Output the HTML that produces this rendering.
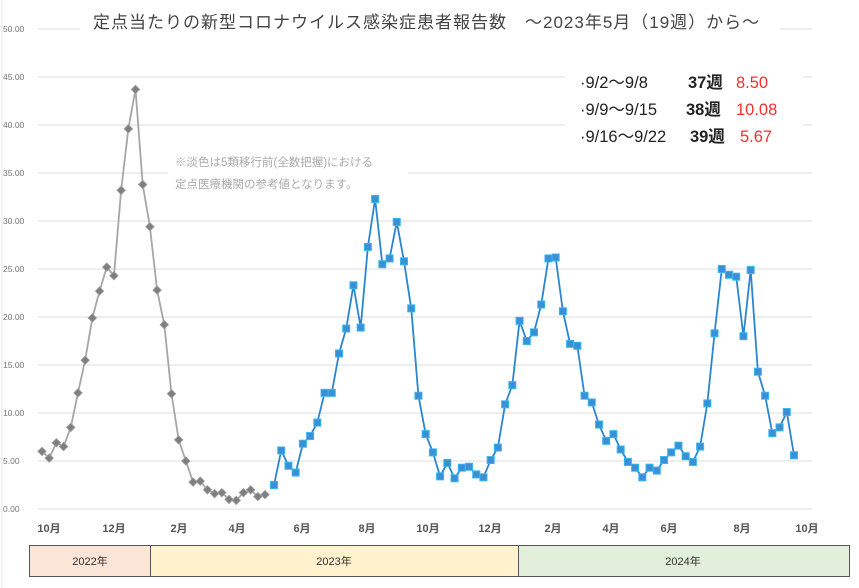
<!DOCTYPE html>
<html><head><meta charset="utf-8"><style>
body{margin:0;background:#fff;width:859px;height:588px;overflow:hidden}
svg{display:block;font-family:"Liberation Sans","Noto Sans CJK JP",sans-serif}
</style></head><body>
<svg id="s" width="859" height="588" viewBox="0 0 859 588">
<rect width="859" height="588" fill="#fff"/>
<line x1="2" y1="0" x2="2" y2="588" stroke="#e6e6e6"/>
<g id="grid"></g>
<rect x="80" y="8" width="700" height="30" fill="#fff"/>
<text x="93" y="28" font-size="17" fill="#444" letter-spacing="1">定点当たりの新型コロナウイルス感染症患者報告数　～2023年5月（19週）から～</text>
<rect x="168" y="150" width="240" height="44" fill="#fff"/>
<text x="175" y="166" font-size="11.5" fill="#aaa">※淡色は5類移行前(全数把握)における</text>
<text x="175" y="188" font-size="11.5" fill="#aaa">定点医療機関の参考値となります。</text>
<rect x="565" y="65" width="238" height="88" fill="#fff"/>
<g font-size="16.5">
<text x="580" y="88" fill="#222">·9/2～9/8</text><text x="688" y="88" fill="#222" font-weight="bold">37週</text><text x="736" y="88" fill="#f03030">8.50</text>
<text x="580" y="115" fill="#222">·9/9～9/15</text><text x="686" y="115" fill="#222" font-weight="bold">38週</text><text x="736" y="115" fill="#f03030">10.08</text>
<text x="580" y="142" fill="#222">·9/16～9/22</text><text x="690" y="142" fill="#222" font-weight="bold">39週</text><text x="740" y="142" fill="#f03030">5.67</text>
</g>
<g id="ser"></g>
<g font-size="11" font-weight="bold" fill="#555" text-anchor="middle">
<text x="49" y="532">10月</text><text x="114" y="532">12月</text><text x="179" y="532">2月</text><text x="237" y="532">4月</text><text x="302" y="532">6月</text><text x="367" y="532">8月</text><text x="428" y="532">10月</text><text x="490" y="532">12月</text><text x="553" y="532">2月</text><text x="611" y="532">4月</text><text x="669" y="532">6月</text><text x="742" y="532">8月</text><text x="807" y="532">10月</text>
</g>
<rect x="29.5" y="545.5" width="121" height="31" fill="#fbe5d6" stroke="#555"/>
<rect x="150.5" y="545.5" width="368" height="31" fill="#fff2cc" stroke="#555"/>
<rect x="518.5" y="545.5" width="331" height="31" fill="#e2efda" stroke="#555"/>
<g font-size="11" fill="#333" text-anchor="middle"><text x="90" y="565">2022年</text><text x="334" y="565">2023年</text><text x="683" y="565">2024年</text></g>
</svg>
<script>
var NS="http://www.w3.org/2000/svg";
function el(t,a,p){var e=document.createElementNS(NS,t);for(var k in a)e.setAttribute(k,a[k]);p.appendChild(e);return e;}
function Y(v){return 509-9.6*v;}
var g=document.getElementById('grid');
for(var v=0;v<=50;v+=5){var y=Y(v);el('line',{x1:38,x2:812,y1:y,y2:y,stroke:'#e4e4e4','stroke-width':1.2},g);
var t=el('text',{x:3,y:y+3,'font-size':8.5,fill:'#777'},g);t.textContent=v.toFixed(2);}
var gray=[6.0,5.3,6.9,6.5,8.5,12.1,15.5,19.9,22.7,25.2,24.3,33.2,39.6,43.7,33.8,29.4,22.8,19.2,12.0,7.2,5.0,2.8,2.9,2.0,1.6,1.7,1.0,0.9,1.7,2.0,1.3,1.5];
var blue=[2.5,6.1,4.5,3.8,6.8,7.6,9.0,12.1,12.1,16.2,18.8,23.3,18.9,27.3,32.3,25.5,26.1,29.9,25.8,20.9,11.8,7.8,5.9,3.4,4.8,3.2,4.3,4.4,3.6,3.3,5.1,6.4,10.9,12.9,19.6,17.5,18.4,21.3,26.1,26.2,20.6,17.2,17.0,11.8,11.1,8.8,7.1,7.8,6.2,4.9,4.3,3.3,4.3,4.0,5.1,5.9,6.6,5.5,4.9,6.5,11.0,18.3,25.0,24.4,24.2,18.0,24.9,14.3,11.8,7.9,8.5,10.1,5.6];
var s=document.getElementById('ser');
var st=(265-42)/(gray.length-1);
var gp=gray.map(function(v,i){return [42+i*st,Y(v)];});
var bst=(794-274)/(blue.length-1);
var bp=blue.map(function(v,i){return [274+i*bst,Y(v)];});
el('polyline',{points:gp.map(function(p){return p.join(',')}).join(' '),fill:'none',stroke:'#a6a6a6','stroke-width':1.8},s);
el('polyline',{points:bp.map(function(p){return p.join(',')}).join(' '),fill:'none',stroke:'#2a86d0','stroke-width':1.8},s);
gp.forEach(function(p){el('rect',{x:p[0]-3,y:p[1]-3,width:6,height:6,fill:'#7f7f7f',stroke:'#a0a0a0','stroke-width':0.8,transform:'rotate(45 '+p[0]+' '+p[1]+')'},s);});
bp.forEach(function(p){el('rect',{x:p[0]-3.5,y:p[1]-3.5,width:7,height:7,fill:'#3b8fd3',stroke:'#36b6f0','stroke-width':1},s);});
</script>
</body></html>
